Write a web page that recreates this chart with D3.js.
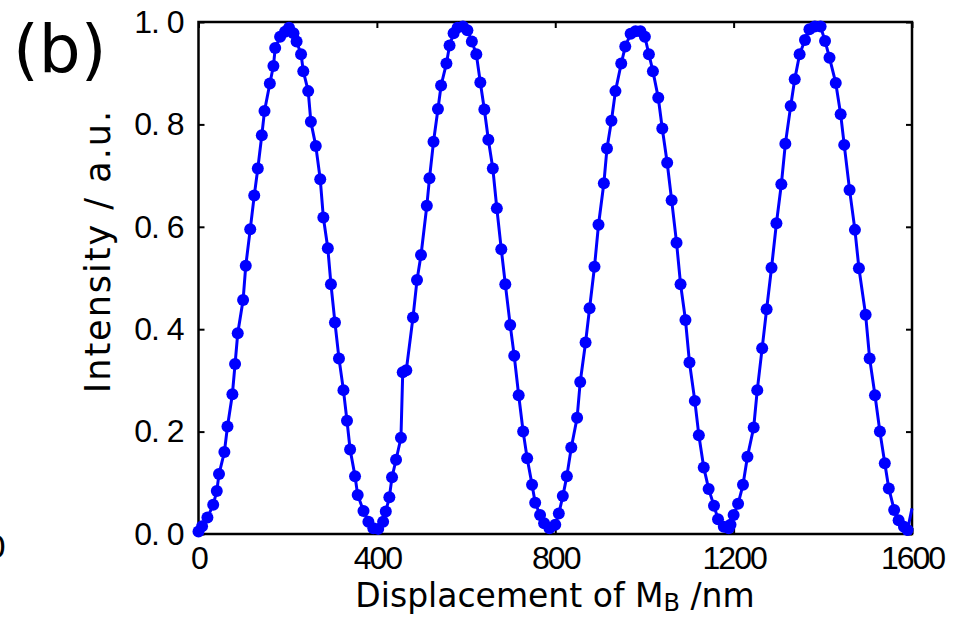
<!DOCTYPE html>
<html>
<head>
<meta charset="utf-8">
<script src="https://cdn.jsdelivr.net/npm/d3@7"></script>
<style>
  body { margin: 0; background: #fff; }
  svg { display: block; }
  .tick text { font-family: "Liberation Sans", Arial, sans-serif; font-size: 32px; fill: #000; }
  .x-axis .tick text { letter-spacing: -2px; }
  .y-axis .tick text { letter-spacing: -1px; }
  .lbl { font-family: "DejaVu Sans", Verdana, sans-serif; fill: #000; }
</style>
</head>
<body>
<svg width="959" height="617"></svg>
<script>
// DATA
const displacement = [0, 8, 20, 33, 41, 46, 58, 65, 76, 82, 88, 100, 106, 116, 125, 133, 142, 148, 160, 168, 172, 183, 194, 203,
  213, 220, 230, 235, 246, 252, 263, 273, 280, 290, 297, 306, 315, 325, 333, 340, 351, 357, 370, 381, 392,
  403, 414, 420, 428, 434, 443, 454, 458, 466, 481, 490, 499, 512, 518, 527, 537, 544, 556, 563, 572, 581, 593,
  603, 613, 623, 632, 641, 650, 660, 669, 679, 688, 699, 708, 718, 728, 737, 748, 755, 766, 775, 787,
  800, 808, 817, 826, 836, 849, 856, 868, 877, 888, 897, 909, 916, 926, 935, 948, 957, 969, 980, 991,
  1001, 1010, 1019, 1031, 1040, 1051, 1061, 1072, 1081, 1092, 1101, 1113, 1122, 1133, 1144, 1156, 1165, 1178, 1189,
  1193, 1200, 1210, 1221, 1231, 1245, 1253, 1264, 1274, 1285, 1296, 1307, 1316, 1328, 1337, 1348, 1360, 1370, 1382, 1395,
  1405, 1415, 1429, 1440, 1448, 1460, 1472, 1481, 1496, 1505, 1517, 1528, 1539, 1548, 1560, 1570, 1582, 1590];
const intensity = [0.005, 0.015, 0.032, 0.057, 0.084, 0.117, 0.160, 0.210, 0.273, 0.332, 0.392, 0.457, 0.524, 0.595, 0.661, 0.714, 0.779, 0.826, 0.880, 0.914, 0.949, 0.971, 0.981, 0.989,
  0.978, 0.962, 0.937, 0.904, 0.865, 0.805, 0.758, 0.693, 0.618, 0.558, 0.488, 0.413, 0.343, 0.281, 0.221, 0.165, 0.113, 0.076, 0.045, 0.024, 0.011,
  0.010, 0.024, 0.044, 0.072, 0.111, 0.145, 0.188, 0.316, 0.320, 0.423, 0.496, 0.545, 0.641, 0.695, 0.766, 0.830, 0.876, 0.919, 0.954, 0.978, 0.989, 0.991,
  0.984, 0.962, 0.937, 0.882, 0.829, 0.770, 0.714, 0.636, 0.556, 0.488, 0.408, 0.348, 0.271, 0.200, 0.148, 0.096, 0.061, 0.037, 0.021, 0.011,
  0.018, 0.040, 0.074, 0.113, 0.169, 0.227, 0.297, 0.374, 0.441, 0.522, 0.604, 0.685, 0.753, 0.807, 0.865, 0.919, 0.952, 0.977, 0.982, 0.982,
  0.971, 0.937, 0.904, 0.852, 0.792, 0.725, 0.652, 0.569, 0.488, 0.418, 0.335, 0.260, 0.193, 0.130, 0.088, 0.055, 0.029, 0.014, 0.011,
  0.018, 0.037, 0.059, 0.096, 0.151, 0.208, 0.281, 0.363, 0.439, 0.520, 0.607, 0.683, 0.762, 0.836, 0.888, 0.937, 0.965, 0.986, 0.991, 0.991,
  0.963, 0.930, 0.881, 0.820, 0.760, 0.672, 0.594, 0.519, 0.428, 0.343, 0.271, 0.200, 0.138, 0.089, 0.047, 0.027, 0.014, 0.008];
// the solid line runs on to the right edge past the last dot
const lineEnd = [1600, 0.05];
const xTicks = [0, 400, 800, 1200, 1600];
const yTicks = [0, 0.2, 0.4, 0.6, 0.8, 1.0];
const yTickLabels = ["0. 0", "0. 2", "0. 4", "0. 6", "0. 8", "1. 0"];

const svg = d3.select("svg");
const margin = {left: 198.5, top: 22, right: 47, bottom: 83};
const width = 959 - margin.left - margin.right, height = 617 - margin.top - margin.bottom;
const g = svg.append("g").attr("transform", "translate(" + margin.left + "," + margin.top + ")");

const points = displacement.map((d, i) => ({x: d, y: intensity[i]}));

//SCALES
const xScale = d3.scaleLinear().domain([0, 1600]).range([0, width]);
const yScale = d3.scaleLinear().domain([0, 1]).range([height, 0]);

//AXES (ticks point inward on all four sides)
g.append("g").attr("class", "x-axis").attr("transform", "translate(0," + height + ")")
  .call(d3.axisBottom(xScale).tickValues(xTicks).tickSizeInner(-6).tickSizeOuter(0).tickPadding(12)
    .tickFormat(d3.format("d")));
g.append("g").attr("class", "y-axis")
  .call(d3.axisLeft(yScale).tickValues(yTicks).tickSizeInner(-6).tickSizeOuter(0).tickPadding(15)
    .tickFormat((d, i) => yTickLabels[i]));
g.append("g")
  .call(d3.axisTop(xScale).tickValues(xTicks).tickSizeInner(-6).tickSizeOuter(0).tickFormat(""));
g.append("g").attr("transform", "translate(" + width + ",0)")
  .call(d3.axisRight(yScale).tickValues(yTicks).tickSizeInner(-6).tickSizeOuter(0).tickFormat(""));
g.selectAll(".domain").remove();
g.selectAll(".tick line").attr("stroke", "#000").attr("stroke-width", 2);

//FRAME
g.append("rect")
  .attr("width", width).attr("height", height)
  .attr("fill", "none").attr("stroke", "#000").attr("stroke-width", 2.5);

//LINE + DOTS
const line = d3.line().x(d => xScale(d.x)).y(d => yScale(d.y));
g.append("path")
  .datum(points.concat([{x: lineEnd[0], y: lineEnd[1]}]))
  .attr("d", line)
  .attr("fill", "none")
  .attr("stroke", "#0000ff")
  .attr("stroke-width", 3)
  .attr("stroke-linejoin", "round");

g.selectAll("circle")
  .data(points)
  .enter()
  .append("circle")
  .attr("cx", d => xScale(d.x))
  .attr("cy", d => yScale(d.y))
  .attr("r", 6)
  .attr("fill", "#0000ff");

//LABELS
const xl = svg.append("text")
  .attr("class", "lbl")
  .attr("x", 555).attr("y", 607)
  .attr("text-anchor", "middle")
  .style("font-size", "33px");
xl.append("tspan").text("Displacement of M");
xl.append("tspan").attr("dy", 4).style("font-size", "24px").text("B");
xl.append("tspan").attr("dy", -4).text(" /nm");

svg.append("text")
  .attr("class", "lbl")
  .attr("transform", "translate(110,251) rotate(-90)")
  .attr("text-anchor", "middle")
  .style("font-size", "35px")
  .style("letter-spacing", "2px")
  .text("Intensity / a.u.");

svg.append("text")
  .attr("class", "lbl")
  .attr("x", 13).attr("y", 72)
  .style("font-size", "66px")
  .text("(b)");

// clipped glyph left over from the neighbouring panel
svg.append("text")
  .attr("class", "lbl")
  .attr("x", -14).attr("y", 558)
  .style("font-size", "32px")
  .text("0");
</script>
</body>
</html>
